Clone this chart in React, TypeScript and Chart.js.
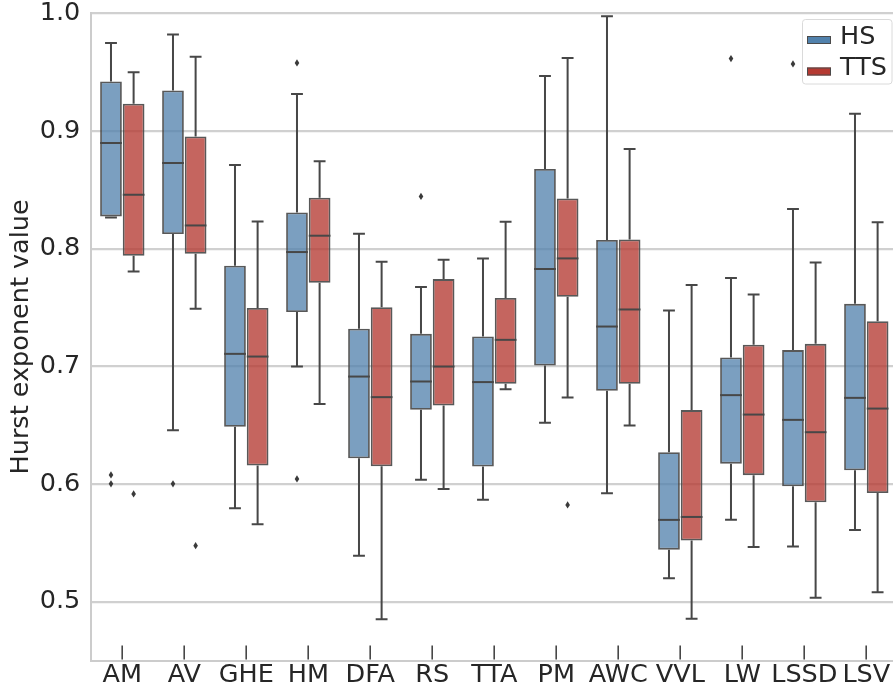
import React, { useEffect, useRef } from "react";
import { Chart, registerables } from "chart.js";

Chart.register(...registerables);

const categories = ["AM", "AV", "GHE", "HM", "DFA", "RS", "TTA", "PM", "AWC", "VVL", "LW", "LSSD", "LSV"];
const yTicks = [0.5, 0.6, 0.7, 0.8, 0.9, 1.0];

// HS series (whisker low, Q1, median, Q3, whisker high, outliers)
const hsLow = [0.8265, 0.6457, 0.5794, 0.6998, 0.5391, 0.6037, 0.5867, 0.652, 0.5922, 0.5199, 0.5697, 0.5468, 0.561];
const hsQ1 = [0.8274, 0.8124, 0.6486, 0.7461, 0.6219, 0.663, 0.6148, 0.7007, 0.6792, 0.5442, 0.6173, 0.5981, 0.6117];
const hsMed = [0.8898, 0.8728, 0.7106, 0.7971, 0.6913, 0.6871, 0.6866, 0.7827, 0.7338, 0.5695, 0.6755, 0.6545, 0.6732];
const hsQ3 = [0.942, 0.9345, 0.7855, 0.8308, 0.7319, 0.7276, 0.7253, 0.8677, 0.8073, 0.627, 0.7075, 0.7138, 0.7531];
const hsHigh = [0.9748, 0.9819, 0.8711, 0.9315, 0.8127, 0.7673, 0.7917, 0.9468, 0.9975, 0.7475, 0.775, 0.8337, 0.9147];
const hsOut = [[0.6077, 0.6001], [0.6001], [], [0.9578, 0.6043], [], [0.8444], [], [], [], [], [0.9615], [0.957], []];

// TTS series
const ttsLow = [0.7806, 0.7489, 0.5658, 0.6679, 0.485, 0.5958, 0.6806, 0.6735, 0.6497, 0.4855, 0.5465, 0.5034, 0.508];
const ttsQ1 = [0.794, 0.7957, 0.6157, 0.771, 0.6151, 0.6667, 0.6851, 0.7591, 0.6851, 0.5519, 0.6075, 0.5845, 0.5924];
const ttsMed = [0.8458, 0.8197, 0.7083, 0.811, 0.6738, 0.6998, 0.7225, 0.7917, 0.7483, 0.572, 0.659, 0.644, 0.6641];
const ttsQ3 = [0.9232, 0.8954, 0.7495, 0.8433, 0.7503, 0.7741, 0.758, 0.8427, 0.8078, 0.6628, 0.7183, 0.7191, 0.7384];
const ttsHigh = [0.9498, 0.963, 0.8231, 0.8742, 0.7889, 0.7906, 0.8229, 0.9621, 0.8847, 0.769, 0.761, 0.7883, 0.8225];
const ttsOut = [[0.5916], [0.5476], [], [], [], [], [], [0.5822], [], [], [], [], []];

const seriesNames = ["HS", "TTS"];
const solidColors = ["rgb(81,129,172)", "rgb(181,58,50)"];
const boxColors = ["rgba(81,129,172,0.76)", "rgba(181,58,50,0.78)"];

const LINE = "#474747";
const FONT = "'DejaVu Sans', sans-serif";
const TEXT = "#262626";
const FS = 25.5;

const stats = [
  { low: hsLow, med: hsMed, high: hsHigh, q1: hsQ1, q3: hsQ3, out: hsOut },
  { low: ttsLow, med: ttsMed, high: ttsHigh, q1: ttsQ1, q3: ttsQ3, out: ttsOut },
];

const boxPlugin = {
  id: "boxExtras",
  afterDatasetsDraw(chart: any) {
    const ctx = chart.ctx;
    const ys = chart.scales.y;
    ctx.save();
    stats.forEach((s, d) => {
      const meta = chart.getDatasetMeta(d);
      meta.data.forEach((bar: any, i: number) => {
        const x = bar.x;
        const w = bar.width;
        const pq1 = ys.getPixelForValue(s.q1[i]);
        const pq3 = ys.getPixelForValue(s.q3[i]);
        const plo = ys.getPixelForValue(s.low[i]);
        const phi = ys.getPixelForValue(s.high[i]);
        const pmed = ys.getPixelForValue(s.med[i]);
        ctx.strokeStyle = LINE;
        ctx.lineWidth = 2;
        ctx.lineCap = "butt";
        ctx.beginPath();
        ctx.moveTo(x, pq1);
        ctx.lineTo(x, plo);
        ctx.moveTo(x, pq3);
        ctx.lineTo(x, phi);
        ctx.moveTo(x - w / 4 - 0.5, plo);
        ctx.lineTo(x + w / 4 + 0.5, plo);
        ctx.moveTo(x - w / 4 - 0.5, phi);
        ctx.lineTo(x + w / 4 + 0.5, phi);
        ctx.stroke();
        ctx.beginPath();
        ctx.moveTo(x - w / 2, pmed);
        ctx.lineTo(x + w / 2, pmed);
        ctx.stroke();
        ctx.fillStyle = "#3a3a3a";
        s.out[i].forEach((v: number) => {
          const py = ys.getPixelForValue(v);
          ctx.beginPath();
          ctx.moveTo(x, py - 3.6);
          ctx.lineTo(x + 2.3, py);
          ctx.lineTo(x, py + 3.6);
          ctx.lineTo(x - 2.3, py);
          ctx.closePath();
          ctx.fill();
        });
      });
    });
    ctx.restore();
  },
  afterDraw(chart: any) {
    const ctx = chart.ctx;
    const xs = chart.scales.x;
    const area = chart.chartArea;
    ctx.save();
    // inward x tick marks
    ctx.strokeStyle = LINE;
    ctx.lineWidth = 1.6;
    ctx.beginPath();
    categories.forEach((_, i) => {
      const x = Math.round(xs.getPixelForTick(i)) + 0.2;
      ctx.moveTo(x, area.bottom - 15);
      ctx.lineTo(x, area.bottom - 1);
    });
    ctx.stroke();

    // legend
    const lx = 802.5, ly = 19.5, lw = 89.5, lh = 64.5, r = 3;
    ctx.beginPath();
    ctx.moveTo(lx + r, ly);
    ctx.lineTo(lx + lw - r, ly);
    ctx.arcTo(lx + lw, ly, lx + lw, ly + r, r);
    ctx.lineTo(lx + lw, ly + lh - r);
    ctx.arcTo(lx + lw, ly + lh, lx + lw - r, ly + lh, r);
    ctx.lineTo(lx + r, ly + lh);
    ctx.arcTo(lx, ly + lh, lx, ly + lh - r, r);
    ctx.lineTo(lx, ly + r);
    ctx.arcTo(lx, ly, lx + r, ly, r);
    ctx.closePath();
    ctx.fillStyle = "rgba(255,255,255,0.8)";
    ctx.fill();
    ctx.strokeStyle = "#dadada";
    ctx.lineWidth = 1;
    ctx.stroke();

    ctx.font = `${FS}px ${FONT}`;
    ctx.textBaseline = "alphabetic";
    ctx.textAlign = "left";
    seriesNames.forEach((name, k) => {
      const py = 36 + k * 31.5;
      ctx.fillStyle = solidColors[k];
      ctx.fillRect(807, py, 24, 8);
      ctx.strokeStyle = "#4a4a4a";
      ctx.lineWidth = 1;
      ctx.strokeRect(807.5, py + 0.5, 23, 7);
      ctx.fillStyle = TEXT;
      ctx.fillText(name, 840, 43.5 + k * 31.5);
    });
    ctx.restore();
  },
};

export default function App() {
  const ref = useRef<HTMLCanvasElement | null>(null);

  useEffect(() => {
    if (!ref.current) return;
    const chart = new Chart(ref.current, {
      type: "bar",
      data: {
        labels: categories,
        datasets: [
          {
            label: seriesNames[0],
            data: hsQ1.map((q, i) => [q, hsQ3[i]]) as any,
            backgroundColor: boxColors[0],
            borderColor: "rgba(70,70,70,0.9)",
            borderWidth: 1.8,
            borderSkipped: false,
            categoryPercentage: 0.73,
            barPercentage: 0.96,
          },
          {
            label: seriesNames[1],
            data: ttsQ1.map((q, i) => [q, ttsQ3[i]]) as any,
            backgroundColor: boxColors[1],
            borderColor: "rgba(70,70,70,0.9)",
            borderWidth: 1.8,
            borderSkipped: false,
            categoryPercentage: 0.73,
            barPercentage: 0.96,
          },
        ],
      },
      options: {
        responsive: false,
        animation: false,
        layout: { padding: { top: 13.3, right: 0.7, left: 0, bottom: 0 } },
        plugins: {
          legend: { display: false },
          tooltip: { enabled: false },
        },
        scales: {
          x: {
            grid: { display: false, drawTicks: false },
            border: { display: true, color: "#cccccc", width: 2 },
            ticks: {
              color: TEXT,
              font: { family: FONT, size: FS },
              padding: 0,
              maxRotation: 0,
              autoSkip: false,
            },
            afterFit: (s: any) => {
              s.height = 32.5;
              s.paddingLeft = 0;
              s.paddingRight = 0;
            },
          },
          y: {
            min: 0.45,
            max: 1.0,
            grid: { color: "#d0d0d0", lineWidth: 2.2, drawTicks: false },
            border: { display: true, color: "#cccccc", width: 2 },
            afterBuildTicks: (s: any) => {
              s.ticks = yTicks.map((v) => ({ value: v }));
            },
            ticks: {
              color: TEXT,
              font: { family: FONT, size: FS },
              padding: 11,
              callback: (v: any) => Number(v).toFixed(1),
            },
            title: {
              display: true,
              text: "Hurst exponent value",
              color: TEXT,
              font: { family: FONT, size: FS },
              padding: { top: 6, bottom: 0 },
            },
            afterFit: (s: any) => {
              s.width = 91.3;
              s.paddingTop = 0;
              s.paddingBottom = 0;
            },
          },
        },
      },
      plugins: [boxPlugin],
    });
    return () => chart.destroy();
  }, []);

  return (
    <div style={{ position: "fixed", left: 0, top: 0, width: 893, height: 693, overflow: "hidden", background: "#fff" }}>
      <canvas ref={ref} width={898} height={693} style={{ display: "block" }} />
    </div>
  );
}
